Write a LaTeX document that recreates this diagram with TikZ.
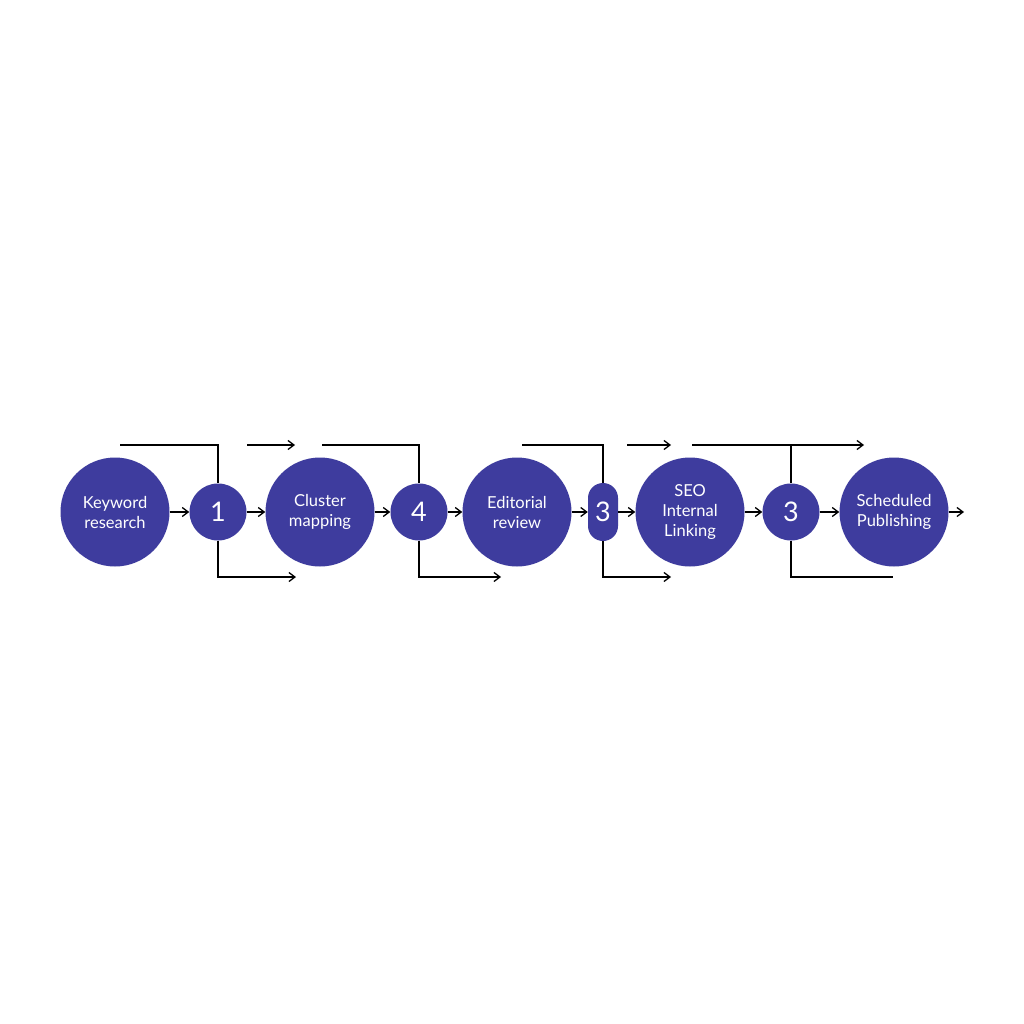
\documentclass[tikz,border=0pt]{standalone}
\usepackage{fontspec}
\setmainfont{Lato}
\usetikzlibrary{arrows.meta}
\definecolor{stepblue}{RGB}{62,60,158}
\tikzset{
  bigdot/.style={circle, fill=stepblue, minimum size=109pt, inner sep=0pt, text=white, align=center, font=\fontsize{16.5}{20}\selectfont},
  smalldot/.style={circle, fill=stepblue, minimum size=57pt, inner sep=0pt, text=white, font=\fontsize{27}{27}\selectfont},
  flow/.style={line width=1.3pt, -{Straight Barb[length=6pt,width=9pt]}},
  wire/.style={line width=1.3pt}
}

\begin{document}
\begin{tikzpicture}[x=1pt, y=-1pt]
		%%%%% START %%%%%
		\useasboundingbox[fill=white] (0, 0) rectangle (1024, 1024);
		
		\node[bigdot] (kw) at (115, 512) {Keyword\\research};
		\node[smalldot] (n1) at (218, 512) {1};
		\node[bigdot] (cm) at (320, 512) {Cluster\\mapping};
		\node[smalldot] (n4) at (419, 512) {4};
		\node[bigdot] (er) at (517, 512) {Editorial\\review};
		\node[smalldot, rectangle, rounded corners=15pt, minimum width=30pt, minimum height=58pt] (n3a) at (603, 512) {3};
		\node[bigdot] (seo) at (690, 512) {SEO\\Internal\\Linking};
		\node[smalldot] (n3b) at (791, 512) {3};
		\node[bigdot] (sp) at (894, 512) {Scheduled\\Publishing};
		\coordinate (out) at (964, 512);
		
		\draw[flow] (kw) -- (n1);
		\draw[flow] (n1) -- (cm);
		\draw[flow] (cm) -- (n4);
		\draw[flow] (n4) -- (er);
		\draw[flow] (er) -- (n3a);
		\draw[flow] (n3a) -- (seo);
		\draw[flow] (seo) -- (n3b);
		\draw[flow] (n3b) -- (sp);
		\draw[flow] (sp) -- (out);
		
		% upper rail
		\coordinate (t1) at (120, 445);
		\coordinate (t2) at (247, 445);
		\coordinate (t3) at (295, 445);
		\coordinate (t4) at (322, 445);
		\coordinate (t5) at (522, 445);
		\coordinate (t6) at (627, 445);
		\coordinate (t7) at (671, 445);
		\coordinate (t8) at (692, 445);
		\coordinate (t9) at (864, 445);
		\coordinate (t10) at (791, 445);
		\draw[wire] (t1) -| (n1);
		\draw[flow] (t2) -- (t3);
		\draw[wire] (t4) -| (n4);
		\draw[wire] (t5) -| (n3a);
		\draw[flow] (t6) -- (t7);
		\draw[flow] (t8) -- (t9);
		\draw[wire] (t10) -- (n3b);
		
		% lower rail
		\coordinate (b1) at (296, 577);
		\coordinate (b2) at (501, 577);
		\coordinate (b3) at (671, 577);
		\coordinate (b4) at (893, 577);
		\draw[flow] (n1) |- (b1);
		\draw[flow] (n4) |- (b2);
		\draw[flow] (n3a) |- (b3);
		\draw[wire] (n3b) |- (b4);
		%%%%% END %%%%%
\end{tikzpicture}
\end{document}
